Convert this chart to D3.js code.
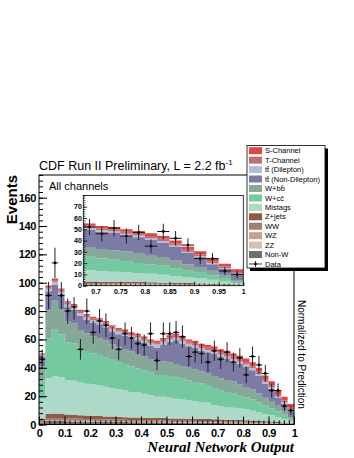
<!DOCTYPE html>
<html>
<head>
<meta charset="utf-8">
<script src="https://cdn.jsdelivr.net/npm/d3@7"></script>
<style>
  body { margin: 0; background: #fff; }
  text { font-family: "Liberation Sans", Arial, sans-serif; }
</style>
</head>
<body>
<div id="chart"></div>
<script>
var w = 354, h = 458;

// 40 bins of width 0.025 on the NN output
var nBins = 40, binWidth = 0.025;

// stacked backgrounds + signal, events per bin (bottom of the stack first)
var nonW   = [1.5,2.5,2.5,2.4,2.3,2.2,2.1,2.0,2.0,1.9, 1.8,1.8,1.7,1.7,1.6,1.6,1.5,1.5,1.4,1.4, 1.4,1.3,1.3,1.2,1.2,1.1,1.1,1.0,1.0,0.9, 0.9,0.8,0.8,0.7,0.7,0.6,0.5,0.4,0.3,0.2];
var zz     = [0.1,0.2,0.2,0.2,0.2,0.2,0.2,0.2,0.2,0.2, 0.2,0.2,0.2,0.2,0.2,0.2,0.2,0.2,0.2,0.2, 0.2,0.2,0.2,0.2,0.2,0.2,0.2,0.2,0.2,0.2, 0.2,0.2,0.2,0.1,0.1,0.1,0.1,0.1,0.1,0.1];
var wz     = [0.2,0.4,0.4,0.4,0.4,0.4,0.4,0.4,0.4,0.4, 0.4,0.4,0.3,0.3,0.3,0.3,0.3,0.3,0.3,0.3, 0.3,0.3,0.3,0.3,0.3,0.3,0.3,0.3,0.3,0.3, 0.3,0.3,0.2,0.2,0.2,0.2,0.2,0.2,0.1,0.1];
var ww     = [0.8,1.5,1.5,1.5,1.4,1.4,1.4,1.3,1.3,1.3, 1.2,1.2,1.2,1.1,1.1,1.1,1.0,1.0,1.0,1.0, 0.9,0.9,0.9,0.9,0.9,0.9,0.9,0.9,0.8,0.8, 0.8,0.8,0.7,0.7,0.6,0.6,0.5,0.4,0.3,0.3];
var zjets  = [1.5,3.0,3.2,3.0,2.8,2.7,2.5,2.4,2.3,2.2, 2.1,2.0,2.0,1.9,1.8,1.8,1.7,1.7,1.6,1.6, 1.5,1.5,1.5,1.4,1.4,1.4,1.3,1.3,1.3,1.2, 1.2,1.1,1.1,1.0,0.9,0.8,0.7,0.6,0.5,0.4];
var mistag = [14,25,26,26,24,24,23,22.5,22,21.5, 21,20,19.5,19,18,17.5,17,16,15,15, 14.5,14,13.5,13,12.5,12,11.5,10,9.5,9, 8.5,8,7.5,7,6,5,4.5,3.5,2.5,1];
var wcc    = [13,28,33,30,27,26.5,24,23,22,21.5, 21,20,19,18.5,18,17,16.5,16,15.5,15.5, 15.5,15,14.5,14,13.5,13,12.5,12,11,10.5, 10,9,8.5,8,7,6,5,4,3,1.5];
var wbb    = [10,20,21,18,14.5,14,13,12.5,12,12, 11.5,11,11,10.5,10.5,10,10,9.5,9.5,9.5, 9.5,9.5,9,9,9,8.5,8.5,8.5,8.5,8.5, 8.5,8,7.5,7,6.5,5.5,5,4,3,1.5];
var ttNonDil = [6.8,13.4,10.9,10.2,10.1,9.3,10.1,9.4,9.5,9.7, 9.4,9,8.7,9.4,9.1,10,9.3,9.3,9.9,11.8, 14.6,16.7,16,15.2,15.1,14.5,14.7,15.6,15.1,15.2, 14.1,14.7,14.4,13.6,12.3,10.1,8.6,5.7,4.9,4.9];
var ttDil  = [1,1.8,2,2,2,2,2,2,2,2, 2,2,2,2,2,2,2,2,2,2, 1.8,1.8,1.8,1.8,1.8,1.8,1.6,1.6,1.6,1.6, 1.5,1.5,1.4,1.4,1.3,1.2,1.1,1,0.9,0.8];
var tChan  = [0.6,1.2,1.3,1.3,1.3,1.3,1.3,1.3,1.3,1.3, 1.3,1.3,1.3,1.3,1.3,1.3,1.3,1.3,1.3,1.4, 1.4,1.4,1.5,1.5,1.5,1.6,1.6,1.7,1.7,1.7, 1.8,1.8,1.8,1.8,1.8,1.8,1.7,1.6,1.5,1.4];
var sChan  = [0.5,1,1,1,1,1,1,1,1,1, 1.1,1.1,1.1,1.1,1.1,1.2,1.2,1.2,1.3,1.3, 1.4,1.4,1.5,1.5,1.6,1.7,1.8,1.9,2.0,2.1, 2.2,2.3,2.4,2.5,2.6,2.6,2.6,2.5,2.4,2.3];

// observed events per bin
var dataCounts = [46,91,114,91,80,83,53,80,65,73, 70,61,53,64,61,57,56,64,45,64, 64,65,62,48,51,50,44,52,46,51, 44,47,35,48,42,36,24,24,13,10];

// legend order (top of stack first)
var legendLabels = ["S-Channel","T-Channel","tt\u0304 (Dilepton)","tt\u0304 (Non-Dilepton)","W+bb\u0304","W+cc\u0304","Mistags","Z+jets","WW","WZ","ZZ","Non-W"];
var legendColors = ["#e04646","#c07272","#b9b9d9","#7b7ba6","#86a899","#74c9a0","#acd9c8","#8c5a48","#a47e6e","#c2a393","#d6c0b4","#6e6e6e"];
var series = [sChan,tChan,ttDil,ttNonDil,wbb,wcc,mistag,zjets,ww,wz,zz,nonW];

var mainYTicks = [0,20,40,60,80,100,120,140,160];
var mainXTicks = [0,0.1,0.2,0.3,0.4,0.5,0.6,0.7,0.8,0.9,1];
var insetYTicks = [0,10,20,30,40,50,60,70];
var insetXTicks = [0.7,0.75,0.8,0.85,0.9,0.95,1];

// build rows for d3.stack (keys bottom -> top)
var keys = d3.range(series.length).map(function(i) { return "s" + i; }).reverse();
var rows = d3.range(nBins).map(function(b) {
  var r = {bin: b};
  series.forEach(function(s, i) { r["s" + i] = s[b]; });
  return r;
});
var stacked = d3.stack().keys(keys)(rows);

var svg = d3.select("#chart").append("svg")
    .attr("width", w).attr("height", h);

function stepPoints(layer, first, last) {
  var pts = [];
  layer.forEach(function(d, i) {
    if (i < first || i > last) return;
    pts.push({x: i * binWidth, y0: d[0], y1: d[1]});
    pts.push({x: (i + 1) * binWidth, y0: d[0], y1: d[1]});
  });
  return pts;
}

function drawPanel(g, x, y, first, last, clipId) {
  var area = d3.area()
      .x(function(p) { return x(p.x); })
      .y0(function(p) { return y(p.y0); })
      .y1(function(p) { return y(p.y1); });

  g.append("clipPath").attr("id", clipId)
    .append("rect")
      .attr("x", x.range()[0]).attr("y", y.range()[1])
      .attr("width", x.range()[1] - x.range()[0])
      .attr("height", y.range()[0] - y.range()[1]);

  var body = g.append("g").attr("clip-path", "url(#" + clipId + ")");

  body.selectAll("path.layer")
    .data(stacked)
    .enter().append("path")
      .attr("class", "layer")
      .attr("fill", function(d) { return legendColors[+d.key.slice(1)]; })
      .attr("d", function(d) { return area(stepPoints(d, first, last)); });

  var pts = dataCounts.map(function(n, i) { return {i: i, n: n}; })
      .filter(function(d) { return d.i >= first && d.i <= last; });

  var pt = body.selectAll("g.pt").data(pts).enter().append("g").attr("class", "pt");
  pt.append("line")
      .attr("x1", function(d) { return x((d.i + 0.5) * binWidth); })
      .attr("x2", function(d) { return x((d.i + 0.5) * binWidth); })
      .attr("y1", function(d) { return y(d.n - Math.sqrt(d.n)); })
      .attr("y2", function(d) { return y(d.n + Math.sqrt(d.n)); })
      .attr("stroke", "#222").attr("stroke-width", 1);
  pt.append("line")
      .attr("x1", function(d) { return x(d.i * binWidth); })
      .attr("x2", function(d) { return x((d.i + 1) * binWidth); })
      .attr("y1", function(d) { return y(d.n); })
      .attr("y2", function(d) { return y(d.n); })
      .attr("stroke", "#111").attr("stroke-width", 1);
  pt.append("circle")
      .attr("cx", function(d) { return x((d.i + 0.5) * binWidth); })
      .attr("cy", function(d) { return y(d.n); })
      .attr("r", 1.4).attr("fill", "#000");
}

// ---------- main panel ----------
var x = d3.scaleLinear().domain([0, 1]).range([39, 294]);
var y = d3.scaleLinear().domain([0, 176]).range([424.5, 175]);

var mainG = svg.append("g");
drawPanel(mainG, x, y, 0, nBins - 1, "clipMain");

mainG.append("rect")
    .attr("x", 39).attr("y", 175).attr("width", 255).attr("height", 249.5)
    .attr("fill", "none").attr("stroke", "#000").attr("stroke-width", 1);

var fmt = d3.format("~g");

function minorAxis(g) { g.selectAll("text").remove(); }

mainG.append("g").attr("transform", "translate(39,0)")
    .call(d3.axisLeft(y).tickValues(d3.range(0, 177, 4)).tickSize(-4)).call(minorAxis);
mainG.append("g").attr("transform", "translate(39,0)")
    .call(d3.axisLeft(y).tickValues(mainYTicks).tickSize(-8).tickPadding(3).tickFormat(fmt));
mainG.append("g").attr("transform", "translate(0,424.5)")
    .call(d3.axisBottom(x).tickValues(d3.range(0, 1.001, 0.02)).tickSize(-4)).call(minorAxis);
mainG.append("g").attr("transform", "translate(0,424.5)")
    .call(d3.axisBottom(x).tickValues(mainXTicks).tickSize(-8).tickPadding(5).tickFormat(fmt));

mainG.selectAll(".domain").remove();
mainG.selectAll(".tick text")
    .attr("fill", "#000")
    .style("font-size", "11px").style("font-weight", "bold")
    .style("letter-spacing", "-0.4px")
    .style("font-family", "'Liberation Sans', Arial, sans-serif");

// ---------- inset ----------
var ix = d3.scaleLinear().domain([0.675, 1]).range([83.3, 243.3]);
var iy = d3.scaleLinear().domain([0, 80]).range([285.7, 195.4]);

var insetG = svg.append("g");
insetG.append("rect")
    .attr("x", 70).attr("y", 191).attr("width", 177).attr("height", 106)
    .attr("fill", "#fff");
drawPanel(insetG, ix, iy, 27, nBins - 1, "clipInset");
insetG.append("rect")
    .attr("x", 83.3).attr("y", 195.4).attr("width", 160).attr("height", 90.3)
    .attr("fill", "none").attr("stroke", "#000").attr("stroke-width", 0.8);

insetG.append("g").attr("transform", "translate(83.3,0)")
    .call(d3.axisLeft(iy).tickValues(d3.range(0, 81, 2)).tickSize(-2)).call(minorAxis);
insetG.append("g").attr("transform", "translate(83.3,0)")
    .call(d3.axisLeft(iy).tickValues(insetYTicks).tickSize(-4).tickPadding(1.5).tickFormat(fmt));
insetG.append("g").attr("transform", "translate(0,285.7)")
    .call(d3.axisBottom(ix).tickValues(d3.range(0.68, 1.001, 0.01)).tickSize(-2)).call(minorAxis);
insetG.append("g").attr("transform", "translate(0,285.7)")
    .call(d3.axisBottom(ix).tickValues(insetXTicks).tickSize(-4).tickPadding(3).tickFormat(fmt));

insetG.selectAll(".domain").remove();
insetG.selectAll(".tick line").attr("stroke-width", 0.7);
insetG.selectAll(".tick text")
    .attr("fill", "#000")
    .style("font-size", "7px").style("font-weight", "bold")
    .style("font-family", "'Liberation Sans', Arial, sans-serif");

// ---------- legend ----------
var lg = svg.append("g");
var lx = 247, ly = 145.5, lw = 78, lh = 122.5, rowH = 9.44;
lg.append("rect").attr("x", lx + 3).attr("y", ly + 3).attr("width", lw).attr("height", lh).attr("fill", "#000");
lg.append("rect").attr("x", lx).attr("y", ly).attr("width", lw).attr("height", lh)
    .attr("fill", "#fff").attr("stroke", "#000").attr("stroke-width", 0.8);

var items = lg.selectAll("g.item").data(legendLabels.concat(["Data"]))
  .enter().append("g").attr("class", "item")
    .attr("transform", function(d, i) { return "translate(0," + (ly + 5.2 + i * rowH) + ")"; });

items.filter(function(d, i) { return i < legendLabels.length; })
  .append("rect")
    .attr("x", lx + 2).attr("y", -3.5).attr("width", 13).attr("height", 7)
    .attr("fill", function(d, i) { return legendColors[i]; });

items.append("text")
    .attr("x", lx + 18).attr("dy", "0.35em")
    .style("font-size", "7.5px").attr("fill", "#000")
    .text(function(d) { return d; });

var dataItem = items.filter(function(d) { return d === "Data"; });
dataItem.append("line").attr("x1", lx + 2).attr("x2", lx + 15).attr("stroke", "#000").attr("stroke-width", 0.8);
dataItem.append("line").attr("x1", lx + 8.5).attr("x2", lx + 8.5).attr("y1", -3).attr("y2", 3).attr("stroke", "#000").attr("stroke-width", 0.8);
dataItem.append("circle").attr("cx", lx + 8.5).attr("r", 1.3).attr("fill", "#000");

// ---------- texts ----------
var title = svg.append("text")
    .attr("x", 39).attr("y", 169.5)
    .style("font-size", "12.5px").attr("fill", "#000")
    .text("CDF Run II Preliminary, L = 2.2 fb");
title.append("tspan").attr("dy", -5).style("font-size", "8px").text("-1");

svg.append("text")
    .attr("transform", "translate(17,175) rotate(-90)")
    .attr("text-anchor", "end")
    .style("font-size", "15px").style("font-weight", "bold")
    .text("Events");

svg.append("text")
    .attr("x", 49).attr("y", 190)
    .style("font-size", "11px")
    .text("All channels");

svg.append("text")
    .attr("x", 294).attr("y", 451.5)
    .attr("text-anchor", "end")
    .style("font-family", "'Liberation Serif', 'Times New Roman', serif")
    .style("font-size", "15px").style("font-weight", "bold").style("font-style", "italic")
    .text("Neural Network Output");

svg.append("text")
    .attr("transform", "translate(298,300) rotate(90)")
    .style("font-size", "10px")
    .text("Normalized to Prediction");
</script>
</body>
</html>
